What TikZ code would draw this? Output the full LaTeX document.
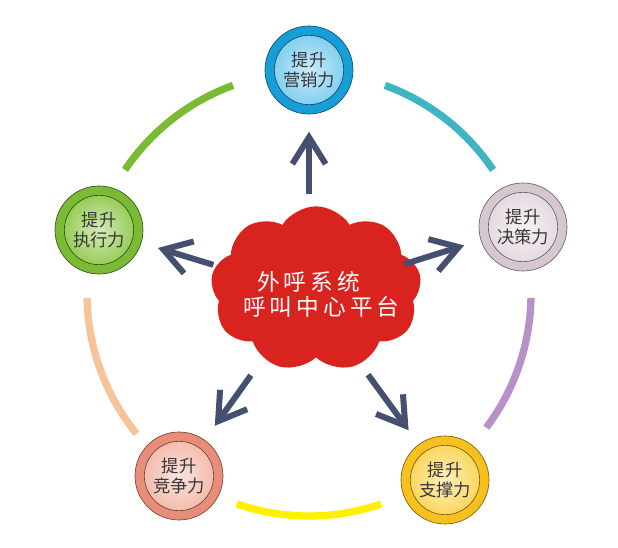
\documentclass[tikz,border=0pt]{standalone}
\usepackage{fontspec}
\usepackage{tikz}
\usetikzlibrary{arrows.meta, shapes.symbols}
\newfontfamily\cjk{Noto Sans CJK SC}
\newfontfamily\cjkwide{Noto Sans CJK SC}[LetterSpace=18]
\definecolor{bluecolor}{RGB}{24,158,214}
\definecolor{lightbluecolor}{RGB}{110,200,238}
\definecolor{mauvecolor}{RGB}{214,198,208}
\definecolor{lightmauvecolor}{RGB}{226,212,220}
\definecolor{greencolor}{RGB}{122,186,52}
\definecolor{lightgreencolor}{RGB}{136,196,62}
\definecolor{salmoncolor}{RGB}{232,142,120}
\definecolor{lightsalmoncolor}{RGB}{242,178,160}
\definecolor{goldcolor}{RGB}{246,192,30}
\definecolor{lightgoldcolor}{RGB}{250,208,70}
\definecolor{cloudcolor}{RGB}{217,35,31}
\definecolor{arrowcolor}{RGB}{69,80,112}
\definecolor{tealcolor}{RGB}{62,180,196}
\definecolor{purplecolor}{RGB}{182,146,200}
\definecolor{yellowcolor}{RGB}{255,240,0}
\definecolor{peachcolor}{RGB}{245,196,152}
\definecolor{textcolor}{RGB}{55,55,55}

\begin{document}
\begin{tikzpicture}[x=0.75pt, y=0.75pt,
  ability/.style n args={3}{circle, minimum size=66pt, inner sep=0pt, fill=#1, draw=#3, line width=0.5pt,
    font=\cjk\fontsize{13pt}{14.5pt}\selectfont, text=textcolor, align=center,
    path picture={\shadedraw[inner color=white!65!#2, outer color=#2, draw=#3, line width=0.5pt]
      (path picture bounding box.center) circle[radius=26pt];}},
  bigarrow/.style={draw=arrowcolor, line width=4.5pt, -{Straight Barb[length=20pt, width=25pt]},
    shorten <=75pt, shorten >=13pt},
  cloudtext/.style={font=\cjkwide\fontsize{17pt}{19pt}\selectfont, text=white, anchor=west, inner sep=0pt},
  rim/.style={line width=5.5pt}]
\useasboundingbox (0,0) rectangle (618,-548);

% Centre of the ring
\coordinate (hub) at (309,-294);

% Coloured ring segments
\draw[rim, greencolor] (hub) ++(146:222) arc[start angle=146, end angle=110, radius=222];
\draw[rim, tealcolor] (hub) ++(70:222) arc[start angle=70, end angle=34, radius=222];
\draw[rim, purplecolor] (hub) ++(-1:222) arc[start angle=-1, end angle=-37, radius=222];
\draw[rim, yellowcolor] (hub) ++(-71:222) arc[start angle=-71, end angle=-109, radius=222];
\draw[rim, peachcolor] (hub) ++(181:222) arc[start angle=181, end angle=219, radius=222];

% The cloud in the middle
\node[cloud, cloud puffs=9, cloud puff arc=115, aspect=1.35, fill=cloudcolor,
  minimum width=158pt, minimum height=124pt] (cloud) at (316,-289) {};
\node[cloudtext] (line1) at (257,-282) {外呼系统};
\node[cloudtext] (line2) at (243,-307) {呼叫中心平台};

% The five abilities
\node[ability={bluecolor}{lightbluecolor}{bluecolor!50!black}] (top) at (309,-70) {提升\\营销力};
\node[ability={mauvecolor}{lightmauvecolor}{mauvecolor!50!black}] (right) at (523,-227) {提升\\决策力};
\node[ability={greencolor}{lightgreencolor}{greencolor!45!black}] (left) at (99,-230) {提升\\执行力};
\node[ability={salmoncolor}{lightsalmoncolor}{salmoncolor!50!black}] (botleft) at (179,-476) {提升\\竞争力};
\node[ability={goldcolor}{lightgoldcolor}{goldcolor!50!black}] (botright) at (445,-480) {提升\\支撑力};

% Arrows out of the cloud
\draw[bigarrow] (hub) -- (top);
\draw[bigarrow] (hub) -- (right);
\draw[bigarrow] (hub) -- (left);
\draw[bigarrow] (hub) -- (botleft);
\draw[bigarrow] (hub) -- (botright);
\end{tikzpicture}
\end{document}
